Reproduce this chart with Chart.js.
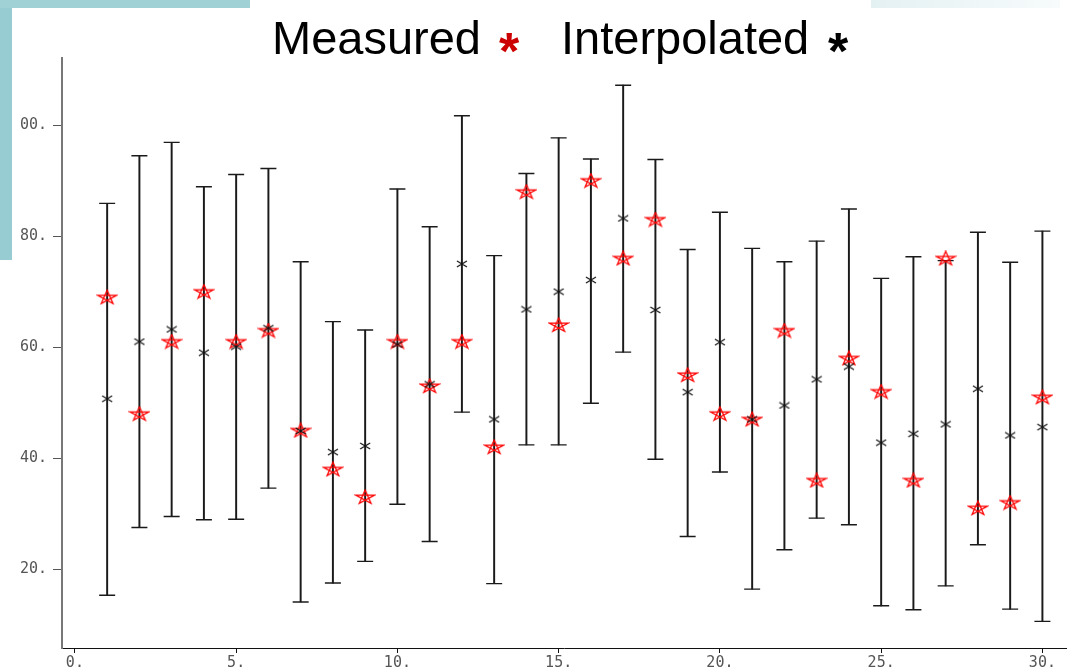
<!DOCTYPE html>
<html>
<head>
<meta charset="utf-8">
<title>Measured vs Interpolated</title>
<script src="https://cdn.jsdelivr.net/npm/chart.js"></script>
<style>
  html, body { margin: 0; padding: 0; background: #fff; }
  #wrap { position: relative; width: 1076px; height: 672px; overflow: hidden; }
  canvas { position: absolute; left: 0; top: 0; }
  .deco { position: absolute; z-index: 2; }
  .ttl { position: absolute; z-index: 3; font-family: Arial, "Liberation Sans", sans-serif; white-space: nowrap; }
  .word { font-size: 47px; line-height: 47px; top: 14px; color: #000; }
  .star { font-size: 52px; line-height: 52px; font-weight: bold; top: 25px; }
</style>
</head>
<body>
<div id="wrap">
  <canvas id="myChart" width="1076" height="672"></canvas>
  <div class="deco" style="left:0;top:0;width:12px;height:260px;background:#97cdd2"></div>
  <div class="deco" style="left:0;top:0;width:250px;height:8px;background:#9fd1d5"></div>
  <div class="deco" style="left:871px;top:0;width:189px;height:8px;background:linear-gradient(to right,#e4f1f3,#f7fbfb)"></div>
  <span class="ttl word" style="left:272px">Measured</span>
  <span class="ttl star" style="left:499px;color:#cc0000">*</span>
  <span class="ttl word" style="left:561px">Interpolated</span>
  <span class="ttl star" style="left:828px;color:#000">*</span>
</div>
<script>
// positions along x (sample number)
const samples = [1, 2, 3, 4, 5, 6, 7, 8, 9, 10, 11, 12, 13, 14, 15,
                 16, 17, 18, 19, 20, 21, 22, 23, 24, 25, 26, 27, 28, 29, 30];

// measured values (red stars)
const measured = [69, 48, 61, 70, 61, 63, 45, 38, 33, 61, 53, 61, 42, 88, 64,
                  90, 76, 83, 55, 48, 47, 63, 36, 58, 52, 36, 76, 31, 32, 51];

// interpolated values (black crosses)
const interpolated = [50.7, 61.0, 63.2, 59.0, 60.1, 63.4, 44.9, 41.1, 42.2, 60.5, 53.3, 75.0, 47.0, 66.8, 70.0,
                      72.1, 83.2, 66.7, 51.9, 60.9, 47.0, 49.5, 54.2, 56.5, 42.8, 44.4, 46.1, 52.5, 44.1, 45.6];

// error bar ends
const low = [15.3, 27.5, 29.5, 28.9, 29.0, 34.6, 14.1, 17.5, 21.4, 31.7, 25.0, 48.3, 17.4, 42.4, 42.4,
             49.9, 59.1, 39.8, 25.9, 37.5, 16.4, 23.5, 29.2, 28.0, 13.4, 12.7, 17.0, 24.4, 12.8, 10.6];
const high = [85.9, 94.5, 96.9, 88.9, 91.1, 92.2, 75.4, 64.6, 63.1, 88.5, 81.7, 101.7, 76.5, 91.3, 97.7,
              93.9, 107.2, 93.8, 77.6, 84.3, 77.8, 75.4, 79.1, 84.9, 72.4, 76.3, 75.6, 80.7, 75.3, 80.9];

// tick values and their labels
const xTicks = [0, 5, 10, 15, 20, 25, 30];
const xTickLabels = ['0.', '5.', '10.', '15.', '20.', '25.', '30.'];
const yTicks = [20, 40, 60, 80, 100];
const yTickLabels = ['20.', '40.', '60.', '80.', '00.'];

// marker images
function starImg() {
    const c = document.createElement('canvas');
    c.width = 22; c.height = 16;
    const g = c.getContext('2d');
    const pts = [];
    for (let k = 0; k < 5; k++) {
        const a = (-90 + 72 * k) * Math.PI / 180;
        pts.push([11 + 10 * Math.cos(a), 8.3 + 7.3 * Math.sin(a)]);
    }
    g.strokeStyle = '#ff0000';
    g.lineWidth = 1.3;
    g.beginPath();
    for (let k = 0; k <= 5; k++) {
        const p = pts[(k * 2) % 5];
        if (k === 0) g.moveTo(p[0], p[1]); else g.lineTo(p[0], p[1]);
    }
    g.closePath();
    g.stroke();
    return c;
}
function crossImg() {
    const c = document.createElement('canvas');
    c.width = 12; c.height = 8;
    const g = c.getContext('2d');
    g.strokeStyle = '#111';
    g.lineWidth = 1.2;
    g.beginPath();
    g.moveTo(1, 1); g.lineTo(11, 7);
    g.moveTo(1, 7); g.lineTo(11, 1);
    g.stroke();
    return c;
}

const tickFont = { family: '"DejaVu Sans Mono", monospace', size: 15 };

const ctx = document.getElementById('myChart').getContext('2d');
const myChart = new Chart(ctx, {
    type: 'scatter',
    data: {
        datasets: [
            {
                type: 'bar',
                label: 'range',
                data: samples.map((s, i) => ({ x: s, y: [low[i], high[i]] })),
                backgroundColor: '#1a1a1a',
                borderWidth: 0,
                barThickness: 1.3,
                order: 4
            },
            {
                label: 'caps',
                data: samples.map((s, i) => ({ x: s, y: low[i] }))
                    .concat(samples.map((s, i) => ({ x: s, y: high[i] }))),
                pointStyle: 'line',
                radius: 8,
                borderColor: '#1a1a1a',
                borderWidth: 1.4,
                order: 3
            },
            {
                label: 'Measured',
                data: samples.map((s, i) => ({ x: s, y: measured[i] })),
                pointStyle: starImg(),
                order: 2
            },
            {
                label: 'Interpolated',
                data: samples.map((s, i) => ({ x: s, y: interpolated[i] })),
                pointStyle: crossImg(),
                order: 1
            }
        ]
    },
    options: {
        responsive: false,
        animation: false,
        devicePixelRatio: 1,
        layout: { padding: { top: 58, right: 6, left: 0, bottom: 0 } },
        plugins: {
            legend: { display: false },
            title: { display: false },
            tooltip: { enabled: false }
        },
        scales: {
            x: {
                type: 'linear',
                min: -0.4,
                max: 30.75,
                offset: false,
                afterFit: s => { s.height = 24; },
                afterBuildTicks: s => { s.ticks = xTicks.map(v => ({ value: v })); },
                border: { display: true, color: '#111', width: 1 },
                grid: { display: true, offset: false, drawOnChartArea: false, drawTicks: true, tickLength: 5, tickColor: '#111' },
                ticks: {
                    color: '#555',
                    font: tickFont,
                    padding: 1,
                    maxRotation: 0,
                    callback: v => xTickLabels[xTicks.indexOf(v)]
                }
            },
            y: {
                min: 5.8,
                max: 112.1,
                afterFit: s => { s.width = 62; },
                afterBuildTicks: s => { s.ticks = yTicks.map(v => ({ value: v })); },
                border: { display: true, color: '#777', width: 2 },
                grid: { display: true, offset: false, drawOnChartArea: false, drawTicks: true, tickLength: 9, tickColor: '#555' },
                ticks: {
                    color: '#555',
                    font: tickFont,
                    padding: 6,
                    callback: v => yTickLabels[yTicks.indexOf(v)]
                }
            }
        }
    }
});
</script>
</body>
</html>
